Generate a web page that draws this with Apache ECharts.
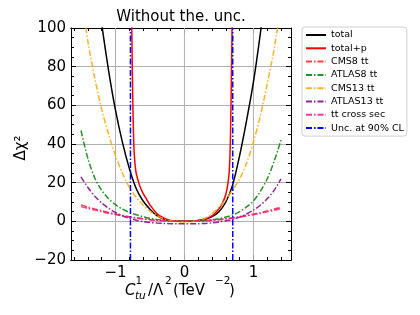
<!DOCTYPE html>
<html><head><meta charset="utf-8">
<script src="https://cdn.jsdelivr.net/npm/echarts@6/dist/echarts.min.js"></script>
<style>html,body{margin:0;padding:0;background:#fff}#c{width:420px;height:315px}</style>
</head><body><div id="c"></div>
<script>
// ---- data ----
const xs = [-1.5,-1.4,-1.3,-1.2,-1.1,-1.0,-0.9,-0.8,-0.7,-0.6,-0.5,-0.4,-0.3,-0.2,-0.1,0,0.1,0.2,0.3,0.4,0.5,0.6,0.7,0.8,0.9,1.0,1.1,1.2,1.3,1.4];
const cms8 = [8.5,7.4,6.4,5.5,4.6,3.8,3.1,2.4,1.85,1.35,0.95,0.6,0.35,0.15,0.05,0,0.05,0.15,0.35,0.6,0.95,1.35,1.85,2.4,3.05,3.75,4.5,5.4,6.3,7.3];
const atlas8 = [47,32.5,22.4,16,11.7,8.6,6.3,4.7,3.4,2.4,1.6,1.0,0.55,0.25,0.06,0,0.03,0.15,0.4,0.8,1.4,2.2,3.3,5.0,7.5,10.5,15.5,22,31,42];
const cms13 = [118,93,74,58,45,34,25,17.8,12.4,8.4,5.3,3.0,1.3,0.3,-0.2,-0.4,-0.2,0.3,1.6,4,7.3,11.3,16.2,22,30,41,54.5,71,89,112];
const atlas13 = [23,17.5,13,9.5,6.8,4.6,2.9,1.6,0.6,-0.1,-0.6,-0.9,-1.1,-1.2,-1.2,-1.2,-1.2,-1.2,-1.1,-0.8,-0.3,0.3,1.0,2.2,3.8,5.8,8.3,11.7,16,22];
const ttxs = [7.6,6.7,5.8,5.0,4.2,3.5,2.8,2.2,1.7,1.25,0.85,0.55,0.3,0.13,0.03,0,0.03,0.13,0.3,0.55,0.85,1.25,1.7,2.2,2.8,3.4,4.1,4.9,5.7,6.6];
const totalX = [-1.2,-1.1,-1.0,-0.9,-0.8,-0.7,-0.6,-0.5,-0.4,-0.3,-0.2,-0.1,0,0.1,0.2,0.3,0.4,0.5,0.6,0.7,0.8,0.9,1.0,1.1,1.2];
const total = [102,78,57.5,41,27.5,17,10.5,6.3,3,1.2,0.3,0.05,0,0.05,0.4,1.1,2.4,5,10,19,34,52,72,97,125];
const totalpX = [-0.765,-0.755,-0.745,-0.735,-0.72,-0.7,-0.65,-0.6,-0.55,-0.5,-0.4,-0.3,-0.2,-0.1,0,0.1,0.2,0.3,0.4,0.5,0.55,0.6,0.63,0.65,0.665,0.675,0.685,0.692];
const totalp = [105,75,55,40,31,25,18.5,14.5,11.5,8.5,4,1.8,0.5,0.1,0,0.1,0.4,1.3,2.8,6.5,9.3,14,19.5,26,40,60,85,105];
const uncX = [-0.783, 0.70];
const xTicks = [-1, 0, 1];
const xMinorTicks = [-1.6,-1.4,-1.2,-1.0,-0.8,-0.6,-0.4,-0.2,0,0.2,0.4,0.6,0.8,1.0,1.2,1.4];
const yTicks = [-20, 0, 20, 40, 60, 80, 100];

const names = ['total','total+p','CMS8 tt','ATLAS8 tt','CMS13 tt','ATLAS13 tt','tt cross sec','Unc. at 90% CL'];
const FONT = 'DejaVu Sans';
const XMIN = -1.645, XMAX = 1.545, YMIN = -20, YMAX = 100;
const zip = (a, b) => a.map((v, i) => [v, b[i]]);
const minus = v => String(v).replace('-', '\u2212');
const DD = [6, 2, 1.5, 2];

function line(name, x, y, color, dash, opts) {
  return Object.assign({
    type: 'line', name, data: zip(x, y), showSymbol: false, symbol: 'circle',
    smooth: 0.3, xAxisIndex: 0, yAxisIndex: 0,
    lineStyle: { color, width: 1.5, type: dash ? DD : 'solid', opacity: dash ? 0.85 : 1 },
    itemStyle: { color }, emphasis: { disabled: true }, animation: false
  }, opts || {});
}

const blueData = uncX.map(x => [[x, YMIN], [x, YMAX]]);

const axisLineStyle = { show: true, onZero: false, lineStyle: { color: '#000', width: 1 } };
function xAx(pos, major, showLab) {
  return {
    type: 'value', min: XMIN, max: XMAX, position: pos, axisLine: axisLineStyle,
    axisTick: { inside: true, length: major ? 5 : 3, customValues: major ? xTicks : xMinorTicks, lineStyle: { color: '#000' } },
    axisLabel: showLab ? { customValues: xTicks, formatter: minus, fontSize: 15, fontFamily: FONT, color: '#000', margin: 6 } : { show: false },
    splitLine: { show: false }
  };
}
const option = {
  backgroundColor: '#fff',
  animation: false,
  grid: { left: 71, right: 129, top: 28, bottom: 55 },
  xAxis: [
    xAx('bottom', true, true),
    xAx('top', true, false),
    xAx('bottom', false, false),
    xAx('top', false, false)
  ],
  yAxis: [
    { type: 'value', min: YMIN, max: YMAX, interval: 20, position: 'left', axisLine: axisLineStyle,
      axisTick: { inside: true, length: 5, lineStyle: { color: '#000' } },
      minorTick: { show: true, splitNumber: 4, length: 3, lineStyle: { color: '#000' } },
      axisLabel: { formatter: minus, fontSize: 15, fontFamily: FONT, color: '#000', margin: 5 },
      splitLine: { show: true, lineStyle: { color: '#b0b0b0', width: 1 } } },
    { type: 'value', min: YMIN, max: YMAX, interval: 20, position: 'right', axisLine: axisLineStyle,
      axisTick: { inside: true, length: 5, lineStyle: { color: '#000' } },
      minorTick: { show: true, splitNumber: 4, length: 3, lineStyle: { color: '#000' } },
      axisLabel: { show: false }, splitLine: { show: false } }
  ],
  legend: {
    orient: 'vertical', left: 302, top: 27, data: names,
    itemWidth: 20, itemHeight: 10, itemGap: 3.3,
    padding: [3, 3, 3, 3],
    borderColor: '#d0d0d0', borderWidth: 1, borderRadius: 3, backgroundColor: '#fff',
    textStyle: { fontSize: 9.5, fontFamily: FONT, color: '#000' },
    itemStyle: { opacity: 0 },
    selectedMode: false
  },
  series: [
    {
      type: 'line', name: '_grid', data: xTicks.map(x => [[x, YMIN], [x, YMAX]]).flat().reduce((a, p, i) => { a.push(p); if (i % 2 === 1) a.push([null, null]); return a; }, []),
      showSymbol: false, symbol: 'none', connectNulls: false, silent: true, z: 0,
      lineStyle: { color: '#b0b0b0', width: 1 }, emphasis: { disabled: true }
    },
    line(names[0], totalX, total, '#000000', false),
    line(names[1], totalpX, totalp, '#ff0000', false, { smooth: 0.15 }),
    line(names[2], xs, cms8, '#ff2020', true),
    line(names[3], xs, atlas8, '#008000', true),
    line(names[4], xs, cms13, '#ffa500', true),
    line(names[5], xs, atlas13, '#800080', true),
    line(names[6], xs, ttxs, '#ff1493', true),
    {
      type: 'line', name: names[7], data: blueData[0], showSymbol: false, symbol: 'circle',
      lineStyle: { color: '#0000ff', width: 1.5, type: DD }, itemStyle: { color: '#0000ff' }, z: 5
    },
    {
      type: 'line', name: names[7], data: blueData[1], showSymbol: false, symbol: 'circle',
      lineStyle: { color: '#0000ff', width: 1.5, type: DD }, itemStyle: { color: '#0000ff' }, z: 5
    }
  ],
  graphic: [
    { type: 'text', x: 181, y: 17, style: { text: 'Without the. unc.', font: '15px "DejaVu Sans"', fill: '#000', textAlign: 'center', textVerticalAlign: 'middle', align: 'center', verticalAlign: 'middle' } },
    { type: 'text', x: 21, y: 148, rotation: Math.PI / 2, style: { text: '\u0394\u03c7\u00b2', font: '15px "DejaVu Sans"', fill: '#000', textAlign: 'center', textVerticalAlign: 'middle', align: 'center', verticalAlign: 'middle' } },
    { type: 'text', x: 125, y: 291, style: { text: 'C', font: 'italic 15px "DejaVu Sans"', fill: '#000', textAlign: 'left', textVerticalAlign: 'middle', align: 'left', verticalAlign: 'middle' } },
    { type: 'text', x: 135.5, y: 281, style: { text: '1', font: '10.5px "DejaVu Sans"', fill: '#000', textAlign: 'left', textVerticalAlign: 'middle', align: 'left', verticalAlign: 'middle' } },
    { type: 'text', x: 135, y: 296, style: { text: 'tu', font: 'italic 10.5px "DejaVu Sans"', fill: '#000', textAlign: 'left', textVerticalAlign: 'middle', align: 'left', verticalAlign: 'middle' } },
    { type: 'text', x: 148, y: 291, style: { text: '/\u039b', font: '15px "DejaVu Sans"', fill: '#000', textAlign: 'left', textVerticalAlign: 'middle', align: 'left', verticalAlign: 'middle' } },
    { type: 'text', x: 165, y: 281, style: { text: '2', font: '10.5px "DejaVu Sans"', fill: '#000', textAlign: 'left', textVerticalAlign: 'middle', align: 'left', verticalAlign: 'middle' } },
    { type: 'text', x: 173, y: 291, style: { text: '(TeV', font: '15px "DejaVu Sans"', fill: '#000', textAlign: 'left', textVerticalAlign: 'middle', align: 'left', verticalAlign: 'middle' } },
    { type: 'text', x: 215, y: 281, style: { text: '\u22122', font: '10.5px "DejaVu Sans"', fill: '#000', textAlign: 'left', textVerticalAlign: 'middle', align: 'left', verticalAlign: 'middle' } },
    { type: 'text', x: 229, y: 291, style: { text: ')', font: '15px "DejaVu Sans"', fill: '#000', textAlign: 'left', textVerticalAlign: 'middle', align: 'left', verticalAlign: 'middle' } }
  ]
};
const chart = echarts.init(document.getElementById('c'), null, { renderer: 'canvas' });
chart.setOption(option);
</script>
</body></html>
